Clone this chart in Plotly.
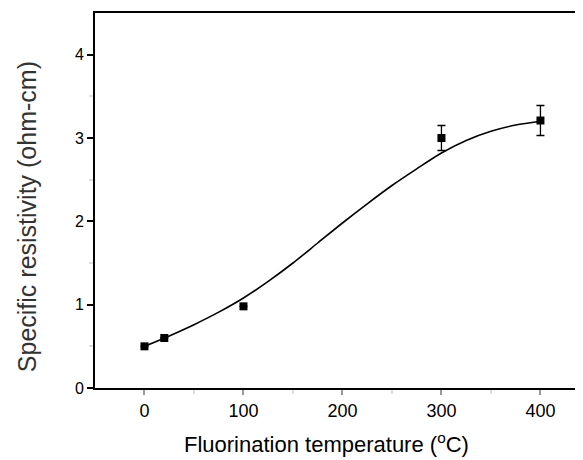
import plotly.graph_objects as go

# Measured data
temp = [0, 20, 100, 300, 400]
resistivity = [0.50, 0.60, 0.98, 3.00, 3.21]
err = [0, 0, 0, 0.15, 0.18]

# Fitted curve
fit_x = [0, 25, 50, 75, 100, 125, 150, 175, 200, 225, 250, 275, 300, 325, 350, 375, 400]
fit_y = [0.50, 0.625, 0.76, 0.91, 1.08, 1.28, 1.50, 1.74, 1.98, 2.21, 2.43, 2.63, 2.82, 2.97, 3.08, 3.155, 3.20]

x_ticks = [0, 100, 200, 300, 400]
y_ticks = [0, 1, 2, 3, 4]

font_family = "Liberation Sans, Arial, sans-serif"

fig = go.Figure()
fig.add_trace(go.Scatter(
    x=fit_x, y=fit_y, mode="lines",
    line=dict(color="black", width=1.6, shape="spline", smoothing=0.8),
    showlegend=False, hoverinfo="skip"))
fig.add_trace(go.Scatter(
    x=temp, y=resistivity, mode="markers",
    marker=dict(symbol="square", size=8, color="black"),
    error_y=dict(type="data", array=err, visible=True, color="black", thickness=1.3, width=4),
    showlegend=False))

fig.update_layout(
    width=575, height=452,
    margin=dict(l=87, r=0, t=5, b=72),
    paper_bgcolor="white", plot_bgcolor="white",
    font=dict(family=font_family, color="black"),
    xaxis=dict(
        range=[-50, 443], tickvals=x_ticks, ticktext=[str(v) for v in x_ticks],
        showgrid=False, zeroline=False, showline=True, linecolor="black", linewidth=2,
        mirror=True, ticks="outside", ticklen=5, tickcolor="#999", tickwidth=1.5,
        tickfont=dict(size=18, family=font_family),
        minor=dict(tickvals=[50, 150, 250, 350], ticks="outside", ticklen=4, tickcolor="#ddd"),
    ),
    yaxis=dict(
        range=[0, 4.5], tickvals=y_ticks, ticktext=[str(v) for v in y_ticks],
        showgrid=False, zeroline=False, showline=True, linecolor="black", linewidth=2,
        ticks="outside", ticklen=6, tickcolor="black", tickwidth=2,
        tickfont=dict(size=16, family=font_family),
        minor=dict(tickvals=[0.5, 1.5, 2.5, 3.5], ticks="outside", ticklen=4, tickcolor="#ddd"),
    ),
    annotations=[
        dict(text="Fluorination temperature (<sup>o</sup>C)", xref="paper", yref="paper",
             x=0.475, y=-0.147, xanchor="center", yanchor="middle", showarrow=False,
             font=dict(size=22, family=font_family, color="black")),
        dict(text="Specific resistivity (ohm-cm)", xref="paper", yref="paper",
             x=-0.139, y=0.456, xanchor="center", yanchor="middle", showarrow=False,
             textangle=-90, font=dict(size=25, family=font_family, color="#333")),
    ],
)

fig.write_html("out.html")
